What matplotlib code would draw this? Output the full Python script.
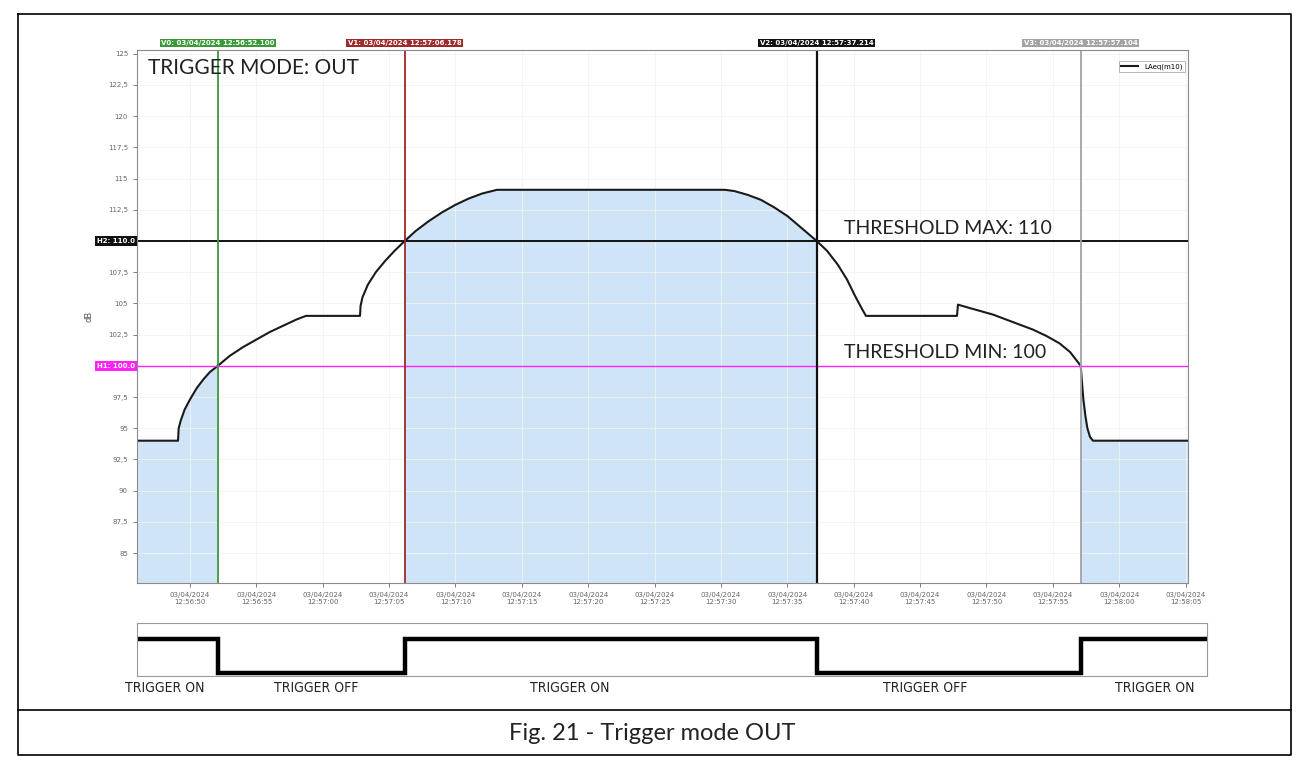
import numpy as np
import matplotlib
matplotlib.use("Agg")
import matplotlib.pyplot as plt
from matplotlib.lines import Line2D
from matplotlib.transforms import blended_transform_factory

# time in seconds after 12:56:50, level in dB
t_sec = [-4.0, -0.90, -0.85, -0.7, -0.4, 0.0, 0.5, 1.0, 1.5, 2.1, 3.0, 4.0, 5.0, 6.0,
         7.0, 8.0, 8.74,
         12.81, 12.85, 13.0, 13.4, 14.0, 14.7, 15.4, 16.178, 17.0, 18.0, 19.0, 20.0,
         21.0, 22.0, 23.13,
         40.30, 41.0, 42.0, 43.0, 44.0, 45.0, 46.0, 47.214, 48.0, 48.8, 49.5, 50.1,
         50.6, 50.92,
         57.78, 57.85, 58.5, 59.5, 60.5, 61.5, 62.5, 63.5, 64.5, 65.5, 66.3, 67.1,
         67.2, 67.3, 67.45, 67.6, 67.8, 68.02, 75.2]
level_db = [94.0, 94.0, 95.0, 95.6, 96.5, 97.3, 98.2, 98.9, 99.5, 100.0, 100.8, 101.5,
            102.1, 102.7, 103.2, 103.7, 104.0,
            104.0, 104.8, 105.5, 106.5, 107.5, 108.4, 109.2, 110.0, 110.8, 111.6, 112.3,
            112.9, 113.4, 113.8, 114.1,
            114.1, 114.0, 113.7, 113.3, 112.7, 112.0, 111.1, 110.0, 109.2, 108.1, 106.9,
            105.6, 104.6, 104.0,
            104.0, 104.9, 104.7, 104.4, 104.1, 103.7, 103.3, 102.9, 102.4, 101.8, 101.1,
            100.0, 98.6, 97.3, 96.0, 95.0, 94.3, 94.0, 94.0]

tick_sec = list(range(0, 80, 5))
tick_labels = ["03/04/2024\n12:56:50", "03/04/2024\n12:56:55", "03/04/2024\n12:57:00",
               "03/04/2024\n12:57:05", "03/04/2024\n12:57:10", "03/04/2024\n12:57:15",
               "03/04/2024\n12:57:20", "03/04/2024\n12:57:25", "03/04/2024\n12:57:30",
               "03/04/2024\n12:57:35", "03/04/2024\n12:57:40", "03/04/2024\n12:57:45",
               "03/04/2024\n12:57:50", "03/04/2024\n12:57:55", "03/04/2024\n12:58:00",
               "03/04/2024\n12:58:05"]
y_ticks = [85, 87.5, 90, 92.5, 95, 97.5, 100, 102.5, 105, 107.5, 110, 112.5, 115,
           117.5, 120, 122.5, 125]

cursor_sec = [2.1, 16.178, 47.214, 67.1]
cursor_names = ["V0: 03/04/2024 12:56:52.100", "V1: 03/04/2024 12:57:06.178",
                "V2: 03/04/2024 12:57:37.214", "V3: 03/04/2024 12:57:57.104"]
cursor_colors = ["#3a9a3a", "#9e2a2a", "#111111", "#a3a3a3"]

thr_max = 110
thr_min = 100

trig_t = [-4.0, 2.1, 16.178, 47.214, 67.1, 76.7]
trig_state = [1, 0, 1, 0, 1, 1]
trig_text = ["TRIGGER ON", "TRIGGER OFF", "TRIGGER ON", "TRIGGER OFF", "TRIGGER ON"]
trig_text_x = [-1.9, 9.5, 28.6, 55.4, 72.7]

W, H = 1309, 765
fig = plt.figure(figsize=(W / 100, H / 100), dpi=100)

def fx(px):
    return px / W

def fy(py):
    return 1 - py / H

# outer frame and caption separator
fig.add_artist(Line2D([fx(18), fx(1291), fx(1291), fx(18), fx(18)],
                      [fy(14), fy(14), fy(755), fy(755), fy(14)], color="black", lw=1.2))
fig.add_artist(Line2D([fx(18), fx(1291)], [fy(710), fy(710)], color="black", lw=1.2))
fig.text(fx(652), fy(733), "Fig. 21 - Trigger mode OUT", ha="center", va="center",
         fontsize=17, family="Lato", color="#222222")

ax = fig.add_axes([fx(137), fy(583), fx(1188 - 137), (583 - 50) / H])
t = np.array(t_sec)
y = np.array(level_db)
ymin = 82.6
on = (y <= thr_min) | (y >= thr_max)
ax.fill_between(t, y, ymin, where=on, color="#cfe5f7", lw=0)
ax.plot(t, y, color="#1a1a1a", lw=1.5, label="LAeq(m10)")

ax.set_xlim(-3.99, 75.18)
ax.set_ylim(ymin, 125.3)
ax.set_xticks(tick_sec)
ax.set_xticklabels(tick_labels)
ax.set_yticks(y_ticks)
# 100 and 110 are covered by the threshold tags
ax.set_yticklabels(["" if v in (thr_min, thr_max) else ("%g" % v).replace(".", ",")
                    for v in y_ticks])
ax.tick_params(labelsize=5, colors="#666666", length=3, width=0.6)
ax.grid(True, color="#f2f2f2", lw=0.6)
for s in ax.spines.values():
    s.set_color("#8a8a8a")
    s.set_linewidth(0.8)
ax.set_ylabel("dB", fontsize=6, color="#555555", labelpad=10)

# thresholds
ax.axhline(thr_max, color="#111111", lw=1.4)
ax.axhline(thr_min, color="#ff22ff", lw=1.0)
trh = blended_transform_factory(ax.transAxes, ax.transData)
ax.text(-0.002, thr_max, "H2: 110.0", transform=trh, ha="right", va="center", fontsize=5,
        color="white", fontweight="bold",
        bbox=dict(boxstyle="square,pad=0.25", fc="#111111", ec="none"))
ax.text(-0.002, thr_min, "H1: 100.0", transform=trh, ha="right", va="center", fontsize=5,
        color="white", fontweight="bold",
        bbox=dict(boxstyle="square,pad=0.25", fc="#ff22ff", ec="none"))

# cursors
tr = blended_transform_factory(ax.transData, ax.transAxes)
for cx, name, c in zip(cursor_sec, cursor_names, cursor_colors):
    ax.axvline(cx, color=c, lw=1.6 if c == "#111111" else 1.3)
    ax.text(cx, 1.013, name, transform=tr, ha="center", va="center", fontsize=5,
            color="white", fontweight="bold", clip_on=False,
            bbox=dict(boxstyle="square,pad=0.2", fc=c, ec="none"))

ax.text(0.0105, 0.966, "TRIGGER MODE: OUT", transform=ax.transAxes, ha="left", va="center",
        fontsize=15, family="Lato", color="#222222")
ax.text(49.3, 111.0, "THRESHOLD MAX: 110", ha="left", va="center", fontsize=14,
        family="Lato", color="#222222")
ax.text(49.3, 101.1, "THRESHOLD MIN: 100", ha="left", va="center", fontsize=14,
        family="Lato", color="#222222")

leg = ax.legend(loc="upper right", fontsize=5, frameon=True, fancybox=False,
                handlelength=2.5, borderpad=0.3, bbox_to_anchor=(1.0, 0.985))
leg.get_frame().set_edgecolor("#999999")
leg.get_frame().set_linewidth(0.6)

# lower trigger panel
ax2 = fig.add_axes([fx(137), fy(676), fx(1207 - 137), (676 - 623) / H])
ax2.step(trig_t, trig_state, where="post", color="black", lw=3.2, solid_joinstyle="miter")
ax2.set_xlim(-3.99, (1207 - 190) / 13.275)
ax2.set_ylim(-0.09, 1.47)
ax2.set_xticks([])
ax2.set_yticks([])
for s in ax2.spines.values():
    s.set_color("#9a9a9a")
    s.set_linewidth(0.8)
tr2 = blended_transform_factory(ax2.transData, ax2.transAxes)
for tx, lab in zip(trig_text_x, trig_text):
    ax2.text(tx, -0.23, lab, transform=tr2, ha="center", va="center", fontsize=10,
             family=["Liberation Sans Narrow", "DejaVu Sans"], stretch="condensed",
             color="#222222", clip_on=False)

fig.savefig("out.png", dpi=100)
